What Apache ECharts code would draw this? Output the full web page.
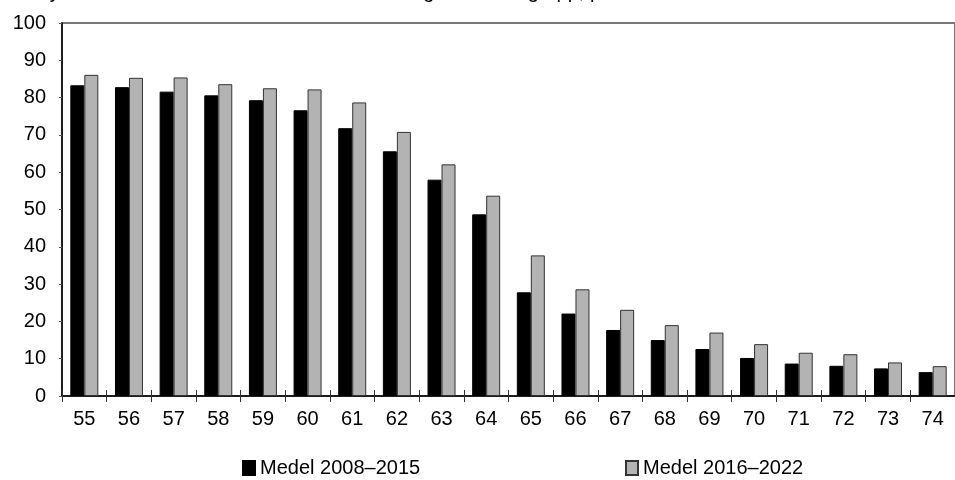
<!DOCTYPE html>
<html>
<head>
<meta charset="utf-8">
<script src="https://cdn.jsdelivr.net/npm/echarts@6/dist/echarts.min.js"></script>
<style>html,body{margin:0;padding:0;background:#fff}#c{width:955px;height:480px}</style>
</head>
<body>
<div id="c"></div>
<script>
var categories = ['55','56','57','58','59','60','61','62','63','64','65','66','67','68','69','70','71','72','73','74'];
var seriesNames = ['Medel 2008–2015', 'Medel 2016–2022'];
var medel2008_2015 = [83.3, 82.8, 81.6, 80.6, 79.3, 76.6, 71.8, 65.6, 58.0, 48.7, 27.8, 22.1, 17.7, 15.0, 12.6, 10.2, 8.7, 8.1, 7.4, 6.4];
var medel2016_2022 = [86.1, 85.3, 85.4, 83.6, 82.5, 82.2, 78.7, 70.8, 62.1, 53.7, 37.7, 28.6, 23.1, 19.0, 17.0, 13.9, 11.6, 11.2, 9.0, 8.0];
var yTicks = [0, 10, 20, 30, 40, 50, 60, 70, 80, 90, 100];
var titleText = 'Andel sysselsatta efter ålder medelvärde för ettårig år i åldersgrupp, procent';

var FONT = 'Liberation Sans, Arial, sans-serif';
var chart = echarts.init(document.getElementById('c'), null, {renderer: 'canvas'});
chart.setOption({
  animation: false,
  backgroundColor: '#fff',
  graphic: [{
    type: 'text', left: -17, top: -18, silent: true,
    style: {text: titleText, fontSize: 20, fontFamily: FONT, fill: '#000'}
  }],
  grid: {left: 62, top: 23, width: 904, bottom: 84, show: true, borderColor: '#777', borderWidth: 2, backgroundColor: 'transparent'},
  legend: [
    {data: [seriesNames[0]], left: 237, top: 453, itemWidth: 12, itemHeight: 14, itemGap: 0,
     textStyle: {fontSize: 20, fontFamily: FONT, color: '#000', padding: [0, 0, 0, 0]}, icon: 'rect'},
    {data: [seriesNames[1]], left: 620, top: 453, itemWidth: 12, itemHeight: 14, itemGap: 0,
     textStyle: {fontSize: 20, fontFamily: FONT, color: '#000', padding: [0, 0, 0, 0]}, icon: 'rect'}
  ],
  xAxis: [{
    type: 'category', data: categories, position: 'bottom',
    axisLine: {lineStyle: {color: '#000', width: 1.5}},
    axisTick: {show: true, alignWithLabel: false, length: 6, lineStyle: {color: '#333', width: 1}},
    axisLabel: {fontSize: 20, fontFamily: FONT, color: '#000', margin: 13},
    splitLine: {show: false}
  }, {
    type: 'category', data: categories, position: 'bottom',
    axisLine: {show: false},
    axisTick: {show: true, inside: true, length: 6, lineStyle: {color: '#333', width: 1}},
    axisLabel: {show: false}, splitLine: {show: false}
  }],
  yAxis: {
    type: 'value', min: yTicks[0], max: yTicks[yTicks.length - 1], interval: 10,
    axisLine: {show: true, lineStyle: {color: '#000', width: 1.5}},
    axisTick: {show: true, length: 3, lineStyle: {color: '#555'}},
    axisLabel: {fontSize: 20, fontFamily: FONT, color: '#000', margin: 16},
    splitLine: {show: false}
  },
  series: [{
    name: seriesNames[0], type: 'bar', data: medel2008_2015, barWidth: 14, barGap: '0%',
    itemStyle: {color: '#000', borderColor: '#000', borderWidth: 1}
  }, {
    name: seriesNames[1], type: 'bar', data: medel2016_2022, barWidth: 14, barGap: '0%',
    itemStyle: {color: '#b3b3b3', borderColor: '#333', borderWidth: 1}
  }]
});
</script>
</body>
</html>
